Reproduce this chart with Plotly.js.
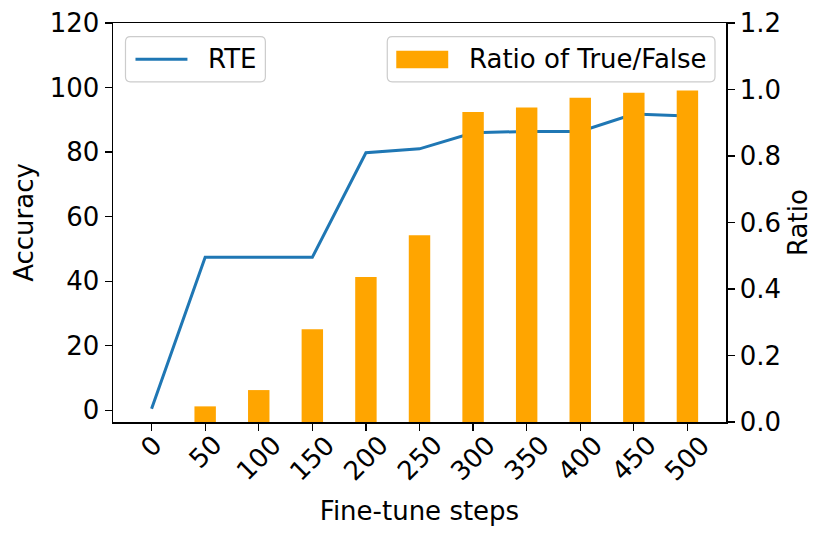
<!DOCTYPE html>
<html>
<head>
<meta charset="utf-8">
<script src="https://cdn.plot.ly/plotly-3.0.1.min.js"></script>
<style>html,body{margin:0;padding:0;background:#fff;}#chart{width:830px;height:538px;}</style>
</head>
<body>
<div id="chart"></div>
<script>
// Data
const steps = [0, 50, 100, 150, 200, 250, 300, 350, 400, 450, 500];
const rteAccuracy = [0.5, 47.4, 47.4, 47.4, 79.8, 81.0, 86.0, 86.4, 86.4, 91.8, 91.2];
const ratioTrueFalse = [0, 0.047, 0.096, 0.279, 0.436, 0.562, 0.932, 0.946, 0.975, 0.990, 0.997];
const tickLabels = steps.map(String);
const accTicks = [0, 20, 40, 60, 80, 100, 120];
const ratioTicks = [0, 0.2, 0.4, 0.6, 0.8, 1.0, 1.2];
const ratioTickLabels = ['0.0', '0.2', '0.4', '0.6', '0.8', '1.0', '1.2'];
const lineName = 'RTE';
const barName = 'Ratio of True/False';

const FONT = 'DejaVu Sans, sans-serif';
const FS = 26;
const LINE_COLOR = '#1f77b4';
const BAR_COLOR = '#ffa500';

// plot area in pixels (matches margins below)
const W = 830, H = 538;
const M = {l: 112.5, r: 104, t: 23.3, b: 116.3};
const PX0 = M.l, PX1 = W - M.r, PY0 = M.t, PY1 = H - M.b;
const px = x => (x - PX0) / (PX1 - PX0);
const py = y => (PY1 - y) / (PY1 - PY0);

function roundRect(x0, y0, x1, y1, r) {
  const f = v => v.toFixed(5);
  return 'M' + f(px(x0 + r)) + ',' + f(py(y0)) +
    ' L' + f(px(x1 - r)) + ',' + f(py(y0)) +
    ' Q' + f(px(x1)) + ',' + f(py(y0)) + ' ' + f(px(x1)) + ',' + f(py(y0 + r)) +
    ' L' + f(px(x1)) + ',' + f(py(y1 - r)) +
    ' Q' + f(px(x1)) + ',' + f(py(y1)) + ' ' + f(px(x1 - r)) + ',' + f(py(y1)) +
    ' L' + f(px(x0 + r)) + ',' + f(py(y1)) +
    ' Q' + f(px(x0)) + ',' + f(py(y1)) + ' ' + f(px(x0)) + ',' + f(py(y1 - r)) +
    ' L' + f(px(x0)) + ',' + f(py(y0 + r)) +
    ' Q' + f(px(x0)) + ',' + f(py(y0)) + ' ' + f(px(x0 + r)) + ',' + f(py(y0)) + ' Z';
}

const legendShapes = [
  {type: 'path', xref: 'paper', yref: 'paper', layer: 'above',
   path: roundRect(125, 37, 265, 82, 5),
   fillcolor: 'rgba(255,255,255,0.85)', line: {color: '#cccccc', width: 1.2}},
  {type: 'line', xref: 'paper', yref: 'paper', layer: 'above',
   x0: px(135), x1: px(187), y0: py(59.5), y1: py(59.5),
   line: {color: LINE_COLOR, width: 3}},
  {type: 'path', xref: 'paper', yref: 'paper', layer: 'above',
   path: roundRect(387, 37, 715, 82, 5),
   fillcolor: 'rgba(255,255,255,0.85)', line: {color: '#cccccc', width: 1.2}},
  {type: 'rect', xref: 'paper', yref: 'paper', layer: 'above',
   x0: px(396), x1: px(448), y0: py(51), y1: py(68.5),
   fillcolor: BAR_COLOR, line: {width: 0}}
];

const legendAnnotations = [
  {xref: 'paper', yref: 'paper', x: px(207), y: py(59.5), xanchor: 'left', yanchor: 'middle',
   text: lineName, showarrow: false, font: {family: FONT, size: FS, color: '#000'}, borderpad: 0},
  {xref: 'paper', yref: 'paper', x: px(468), y: py(59.5), xanchor: 'left', yanchor: 'middle',
   text: barName, showarrow: false, font: {family: FONT, size: FS, color: '#000'}, borderpad: 0}
];

// x tick labels rotated 45 degrees, centred under each tick (matplotlib style)
const xTickAnnotations = steps.map((s, i) => ({
  xref: 'x', yref: 'paper', x: s, y: py(428), xanchor: 'center', yanchor: 'top',
  text: tickLabels[i], textangle: -45, showarrow: false, borderpad: 0,
  font: {family: FONT, size: FS, color: '#000'}
}));

const lineTrace = {
  x: steps, y: rteAccuracy, type: 'scatter', mode: 'lines', name: lineName,
  line: {color: LINE_COLOR, width: 3}, yaxis: 'y', xaxis: 'x'
};
const barTrace = {
  x: steps, y: ratioTrueFalse, type: 'bar', name: barName,
  marker: {color: BAR_COLOR, line: {width: 0}}, width: 20, yaxis: 'y2', xaxis: 'x'
};

const layout = {
  width: W, height: H,
  margin: {l: M.l, r: M.r, t: M.t, b: M.b, pad: 0},
  paper_bgcolor: '#fff', plot_bgcolor: '#fff',
  font: {family: FONT, size: FS, color: '#000'},
  showlegend: false,
  xaxis: {
    range: [-36, 536], tickmode: 'array', tickvals: steps, ticktext: tickLabels,
    showticklabels: false,
    ticks: 'outside', ticklen: 7, tickwidth: 1.3, tickcolor: '#000',
    showline: true, linecolor: '#000', linewidth: 1.5, mirror: true,
    showgrid: false, zeroline: false, tickfont: {family: FONT, size: FS},
    title: {text: 'Fine-tune steps', font: {family: FONT, size: FS}, standoff: 72}
  },
  yaxis: {
    range: [-3.63, 120], tickmode: 'array', tickvals: accTicks,
    ticks: 'outside', ticklen: 7, tickwidth: 1.3, tickcolor: '#000',
    showline: true, linecolor: '#000', linewidth: 1.5,
    showgrid: false, zeroline: false, tickfont: {family: FONT, size: FS},
    title: {text: 'Accuracy', font: {family: FONT, size: FS}, standoff: 8}
  },
  yaxis2: {
    range: [0, 1.2], overlaying: 'y', side: 'right', tickmode: 'array',
    tickvals: ratioTicks, ticktext: ratioTickLabels,
    ticks: 'outside', ticklen: 7, tickwidth: 1.3, tickcolor: '#000',
    showline: true, linecolor: '#000', linewidth: 1.5,
    showgrid: false, zeroline: false, tickfont: {family: FONT, size: FS},
    title: {text: 'Ratio', font: {family: FONT, size: FS}, standoff: 8}
  },
  shapes: legendShapes,
  annotations: legendAnnotations.concat(xTickAnnotations)
};

Plotly.newPlot('chart', [lineTrace, barTrace], layout, {displayModeBar: false, staticPlot: true});
</script>
</body>
</html>
